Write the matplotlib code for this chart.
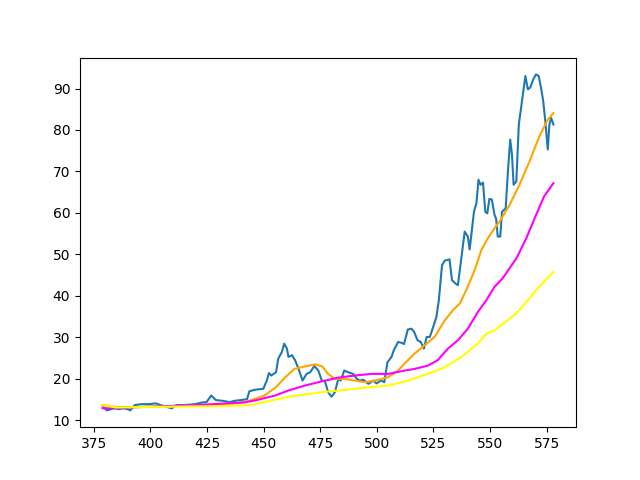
import matplotlib
matplotlib.use("Agg")
import matplotlib.pyplot as plt

price_x = [378.9, 380.9, 384.0, 386.0, 388.1, 390.1, 391.1, 393.2, 396.2, 399.3, 402.4, 404.4, 407.5, 409.5,
           411.6, 415.6, 419.7, 422.8, 424.8, 426.9, 428.9, 432.0, 435.0, 437.1, 440.1, 442.7, 443.7, 446.3,
           449.9, 451.4, 452.4, 453.4, 455.5, 456.5, 458.1, 459.1, 460.3, 461.0, 462.6, 463.9, 465.4, 467.2,
           469.0, 470.6, 472.4, 474.2, 475.7, 477.1, 478.5, 480.0, 481.5, 483.0, 484.1, 485.6, 487.4, 489.6,
           491.2, 492.5, 494.0, 496.3, 498.4, 499.9, 501.8, 503.3, 504.7, 506.5, 507.5, 509.4, 510.9, 512.0,
           513.7, 515.3, 516.4, 518.0, 519.4, 520.8, 522.0, 523.4, 524.9, 526.3, 527.4, 528.8, 530.0, 532.1,
           533.2, 534.7, 535.8, 537.4, 538.8, 540.2, 541.0, 542.9, 544.0, 544.9, 545.8, 546.9, 547.9, 548.8,
           549.7, 550.8, 552.0, 552.7, 553.4, 554.5, 555.3, 556.9, 557.8, 558.9, 559.7, 560.4, 561.6, 562.7,
           563.7, 564.7, 565.6, 566.7, 567.7, 569.1, 570.3, 571.5, 572.5, 573.5, 574.4, 575.5, 576.2, 577.0,
           578.0]
price_y = [13.4, 12.4, 12.9, 12.7, 12.9, 12.7, 12.4, 13.7, 13.9, 13.9, 14.1, 13.7, 13.2, 12.9, 13.7, 13.7,
           13.9, 14.3, 14.4, 16.0, 14.9, 14.7, 14.4, 14.7, 14.9, 15.1, 17.0, 17.4, 17.6, 19.6, 21.4, 20.8,
           21.6, 24.9, 26.5, 28.5, 27.3, 25.3, 25.7, 24.5, 22.5, 19.6, 21.2, 21.6, 23.1, 22.0, 19.6, 19.4,
           16.8, 15.7, 16.8, 20.0, 19.6, 22.0, 21.6, 21.2, 20.0, 19.6, 19.8, 18.8, 19.6, 18.9, 19.6, 19.2,
           24.0, 25.3, 26.9, 28.9, 28.7, 28.4, 31.9, 32.1, 31.4, 29.3, 28.9, 27.3, 30.1, 30.1, 32.5, 34.9,
           39.0, 47.4, 48.5, 48.8, 43.8, 43.0, 42.6, 49.4, 55.5, 54.3, 51.2, 60.3, 62.4, 68.0, 66.8, 67.3,
           60.3, 59.9, 63.4, 63.2, 59.5, 58.6, 54.3, 54.3, 60.3, 61.1, 69.2, 77.7, 74.0, 66.8, 67.6, 81.3,
           85.3, 89.4, 93.0, 89.8, 90.2, 92.2, 93.4, 93.0, 90.2, 86.9, 82.1, 75.3, 81.3, 82.9, 81.3]

orange_x = [378.9, 385.0, 395.2, 405.4, 415.6, 425.9, 434.0, 442.2, 446.3, 450.4, 455.5, 459.6, 463.6,
            468.3, 472.8, 475.9, 478.5, 481.5, 486.1, 490.2, 494.8, 499.4, 505.0, 509.4, 512.3, 516.7,
            521.1, 525.5, 530.0, 533.7, 536.7, 539.5, 543.2, 546.2, 549.0, 552.0, 554.2, 558.6, 563.0,
            567.4, 571.8, 575.5, 578.0]
orange_y = [13.7, 13.2, 13.2, 13.4, 13.5, 13.6, 13.9, 14.5, 15.2, 16.0, 18.0, 20.4, 22.4, 23.0, 23.5, 23.0,
            21.2, 20.0, 20.0, 19.6, 19.2, 19.6, 20.4, 22.0, 23.7, 26.1, 28.1, 30.1, 34.1, 36.6, 38.2, 41.4,
            46.2, 51.1, 53.9, 56.3, 57.9, 61.9, 66.8, 72.4, 78.5, 82.5, 84.1]

magenta_x = [378.9, 390.1, 400.3, 410.5, 420.7, 431.0, 441.2, 446.3, 455.2, 461.0, 468.3, 475.7, 483.0,
             490.2, 497.7, 505.0, 512.3, 516.7, 522.6, 526.9, 531.4, 535.8, 540.2, 544.6, 548.4, 552.0,
             555.5, 561.7, 566.0, 570.3, 573.9, 578.0]
magenta_y = [12.9, 13.1, 13.3, 13.5, 13.7, 14.0, 14.3, 14.8, 16.0, 17.2, 18.4, 19.4, 20.3, 20.8, 21.2, 21.2,
             22.0, 22.4, 23.2, 24.5, 27.3, 29.3, 32.1, 36.1, 39.0, 42.2, 44.2, 49.1, 53.9, 59.5, 64.0, 67.2]

yellow_x = [378.9, 385.0, 395.2, 410.5, 425.9, 441.2, 446.3, 453.4, 461.0, 475.9, 490.2, 505.0, 512.6,
            522.6, 530.0, 535.1, 537.4, 544.6, 548.4, 552.0, 561.6, 567.4, 570.3, 578.0]
yellow_y = [13.6, 13.1, 13.2, 13.3, 13.4, 13.6, 13.9, 14.8, 15.7, 16.8, 17.6, 18.4, 19.4, 21.2, 22.8, 24.5,
            25.3, 28.5, 30.9, 31.7, 35.8, 39.4, 41.4, 45.8]

fig, ax = plt.subplots(figsize=(6.4, 4.8), dpi=100)
ax.plot(price_x, price_y, color='#1f77b4')
ax.plot(orange_x, orange_y, color='orange')
ax.plot(magenta_x, magenta_y, color='magenta')
ax.plot(yellow_x, yellow_y, color='yellow')
fig.savefig("out.png", dpi=100)
